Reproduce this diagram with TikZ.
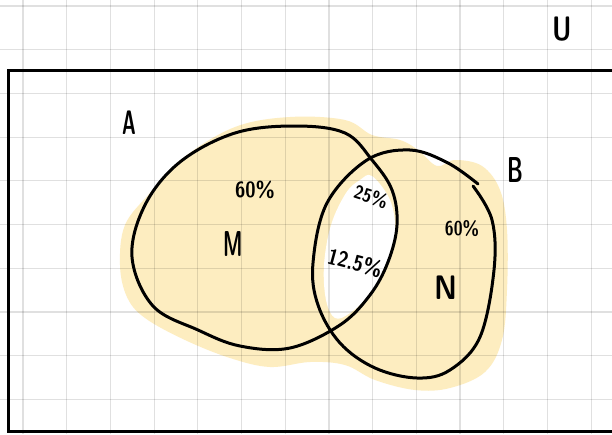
\documentclass[tikz,border=0pt]{standalone}
\usepackage{graphicx}
\definecolor{hl}{HTML}{FDEDC0}
\newcommand\hwtext[3]{\scalebox{#2}[1]{\fontsize{#1}{#1}\selectfont #3}}
\begin{document}
\begin{tikzpicture}[x=1pt,y=-1pt,
  frame/.style={line width=3pt, line join=miter},
  setline/.style={line width=3pt, line cap=round, line join=round},
  gridline/.style={draw=black, opacity=0.12, line width=1.2pt},
  lbl/.style={inner sep=0pt, font=\sffamily\bfseries},
]
\useasboundingbox (0,0) rectangle (612,434);
\clip (0,0) rectangle (612,434);
\fill[white] (0,0) rectangle (612,434);
% highlighter
\fill[hl] plot[smooth cycle, tension=0.6] coordinates {
  (120,265) (125,225) (150,193) (183,158) (235,127) (290,117) (345,120)
  (372,135) (400,140) (418,150) (437,166) (455,160) (482,166) (500,190)
  (507,230) (507,290) (502,340) (485,372) (450,388) (415,390) (375,380)
  (345,365) (310,362) (270,367) (230,358) (185,340) (145,318) (127,297)};
\fill[white] plot[smooth cycle, tension=0.6] coordinates {
  (372,176) (390,200) (395,230) (388,262) (372,292) (350,313) (335,318)
  (326,300) (324,265) (331,225) (346,193) (360,180)};
% grid
\foreach \i in {0,...,13} \draw[gridline] ({23+43.7*\i},0) -- ({23+43.7*\i},434);
\foreach \j in {0,...,9} \draw[gridline] (0,{6+43.7*\j}) -- (612,{6+43.7*\j});
% frame
\draw[frame] (640,70) -- (8,70) -- (8,431) -- (640,431);
% sets
\draw[setline] plot[smooth cycle, tension=0.6] coordinates {
  (132,257) (145,205) (180,162) (235,133) (295,126) (345,133) (372,160)
  (392,190) (397,225) (388,262) (370,295) (340,325) (290,348) (240,346)
  (198,330) (153,306)};
\draw[setline] plot[smooth, tension=0.6] coordinates {
  (478,184) (448,163) (410,150) (367,160) (327,203) (313,263) (318,305)
  (340,343) (375,368) (417,378) (450,370) (480,337) (494,270) (492,220) (473,186)};
% labels
\node[lbl] (U) at (562,29) {\hwtext{34}{0.75}{U}};
\node[lbl] (A) at (129,123) {\hwtext{34}{0.55}{A}};
\node[lbl] (B) at (515,170) {\hwtext{36}{0.6}{B}};
\node[lbl] (M) at (233,244) {\hwtext{36}{0.55}{M}};
\node[lbl] (N) at (446,288) {\hwtext{34}{0.85}{N}};
\node[lbl] (pa) at (255,190) {\hwtext{22}{0.85}{60\%}};
\node[lbl] (pb) at (462,229) {\hwtext{20}{0.8}{60\%}};
\node[lbl, rotate=-18] (pc) at (371,197) {\hwtext{19}{0.85}{25\%}};
\node[lbl, rotate=-15] (pd) at (355,263) {\hwtext{22}{0.85}{12.5\%}};
\end{tikzpicture}
\end{document}
